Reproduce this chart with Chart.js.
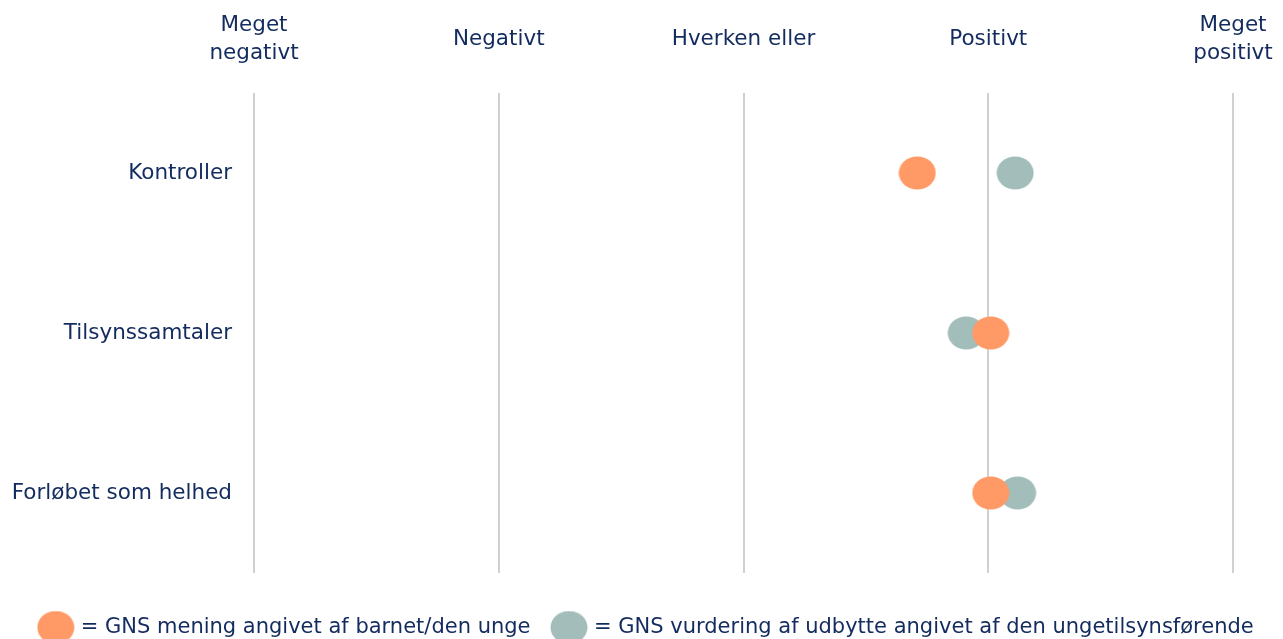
<!DOCTYPE html>
<html>
<head>
<meta charset="utf-8">
<script src="https://cdn.jsdelivr.net/npm/chart.js@4/dist/chart.umd.min.js"></script>
<style>
html,body{margin:0;padding:0;background:#fff;}
#wrap{width:1283px;height:639px;}
</style>
</head>
<body>
<div id="wrap"><canvas id="c" width="1283" height="639"></canvas></div>
<script>
const categories = ['Kontroller', 'Tilsynssamtaler', 'Forløbet som helhed'];
const barnValues = [3.71, 4.01, 4.01];
const udbytteValues = [4.11, 3.91, 4.12];
const tickValues = [1, 2, 3, 4, 5];
const tickLabels = [['Meget', 'negativt'], 'Negativt', 'Hverken eller', 'Positivt', ['Meget', 'positivt']];
const seriesNames = ['= GNS mening angivet af barnet/den unge', '= GNS vurdering af udbytte angivet af den ungetilsynsførende'];

const NAVY = '#132b5e';
const ORANGE = '#ff9966';
const TEAL = '#a3bdbb';
const FONT = 'DejaVu Sans';

function ellipse(color) {
  const c = document.createElement('canvas');
  c.width = 38; c.height = 34;
  const g = c.getContext('2d');
  g.fillStyle = color;
  g.beginPath();
  g.ellipse(19, 17, 18.5, 16.5, 0, 0, Math.PI * 2);
  g.fill();
  return c;
}

const toPoints = vals => vals.map((v, i) => ({x: v, y: categories[i]}));

new Chart(document.getElementById('c'), {
  type: 'scatter',
  data: {
    datasets: [
      {label: seriesNames[0], data: toPoints(barnValues), pointStyle: ellipse(ORANGE), backgroundColor: ORANGE, borderColor: ORANGE},
      {label: seriesNames[1], data: toPoints(udbytteValues), pointStyle: ellipse(TEAL), backgroundColor: TEAL, borderColor: TEAL}
    ]
  },
  options: {
    responsive: false,
    animation: false,
    events: [],
    layout: {padding: {left: 12, right: 0, top: 0, bottom: -9}},
    scales: {
      x: {
        type: 'linear', position: 'top', min: 1, max: 5,
        afterBuildTicks: s => { s.ticks = tickValues.map(v => ({value: v})); },
        afterFit: s => { s.height = 93; s.paddingLeft = 0; s.paddingRight = 0; },
        grid: {color: '#d0d0d0', lineWidth: 2, drawTicks: false},
        border: {display: false},
        ticks: {
          padding: 40, crossAlign: 'center', color: NAVY, maxRotation: 0, autoSkip: false,
          font: {family: FONT, size: 21.5, lineHeight: 1.3},
          callback: (v) => tickLabels[tickValues.indexOf(v)]
        }
      },
      y: {
        type: 'category', labels: categories, offset: true, position: 'left',
        afterFit: s => { s.width = 242; },
        grid: {display: false, drawTicks: false},
        border: {display: false},
        ticks: {padding: 22, color: NAVY, font: {family: FONT, size: 21.5}}
      },
      yr: {
        type: 'linear', position: 'right', display: true,
        afterFit: s => { s.width = 50; },
        grid: {display: false, drawTicks: false}, border: {display: false}, ticks: {display: false}
      },
      xb: {
        type: 'linear', position: 'bottom', display: true,
        afterFit: s => { s.height = 20; s.paddingLeft = 0; s.paddingRight = 0; },
        grid: {display: false, drawTicks: false}, border: {display: false}, ticks: {display: false}
      }
    },
    plugins: {
      tooltip: {enabled: false},
      legend: {
        position: 'bottom',
        labels: {
          usePointStyle: true, pointStyleWidth: 29, padding: 24,
          color: NAVY, font: {family: FONT, size: 21}
        }
      }
    }
  }
});
</script>
</body>
</html>
